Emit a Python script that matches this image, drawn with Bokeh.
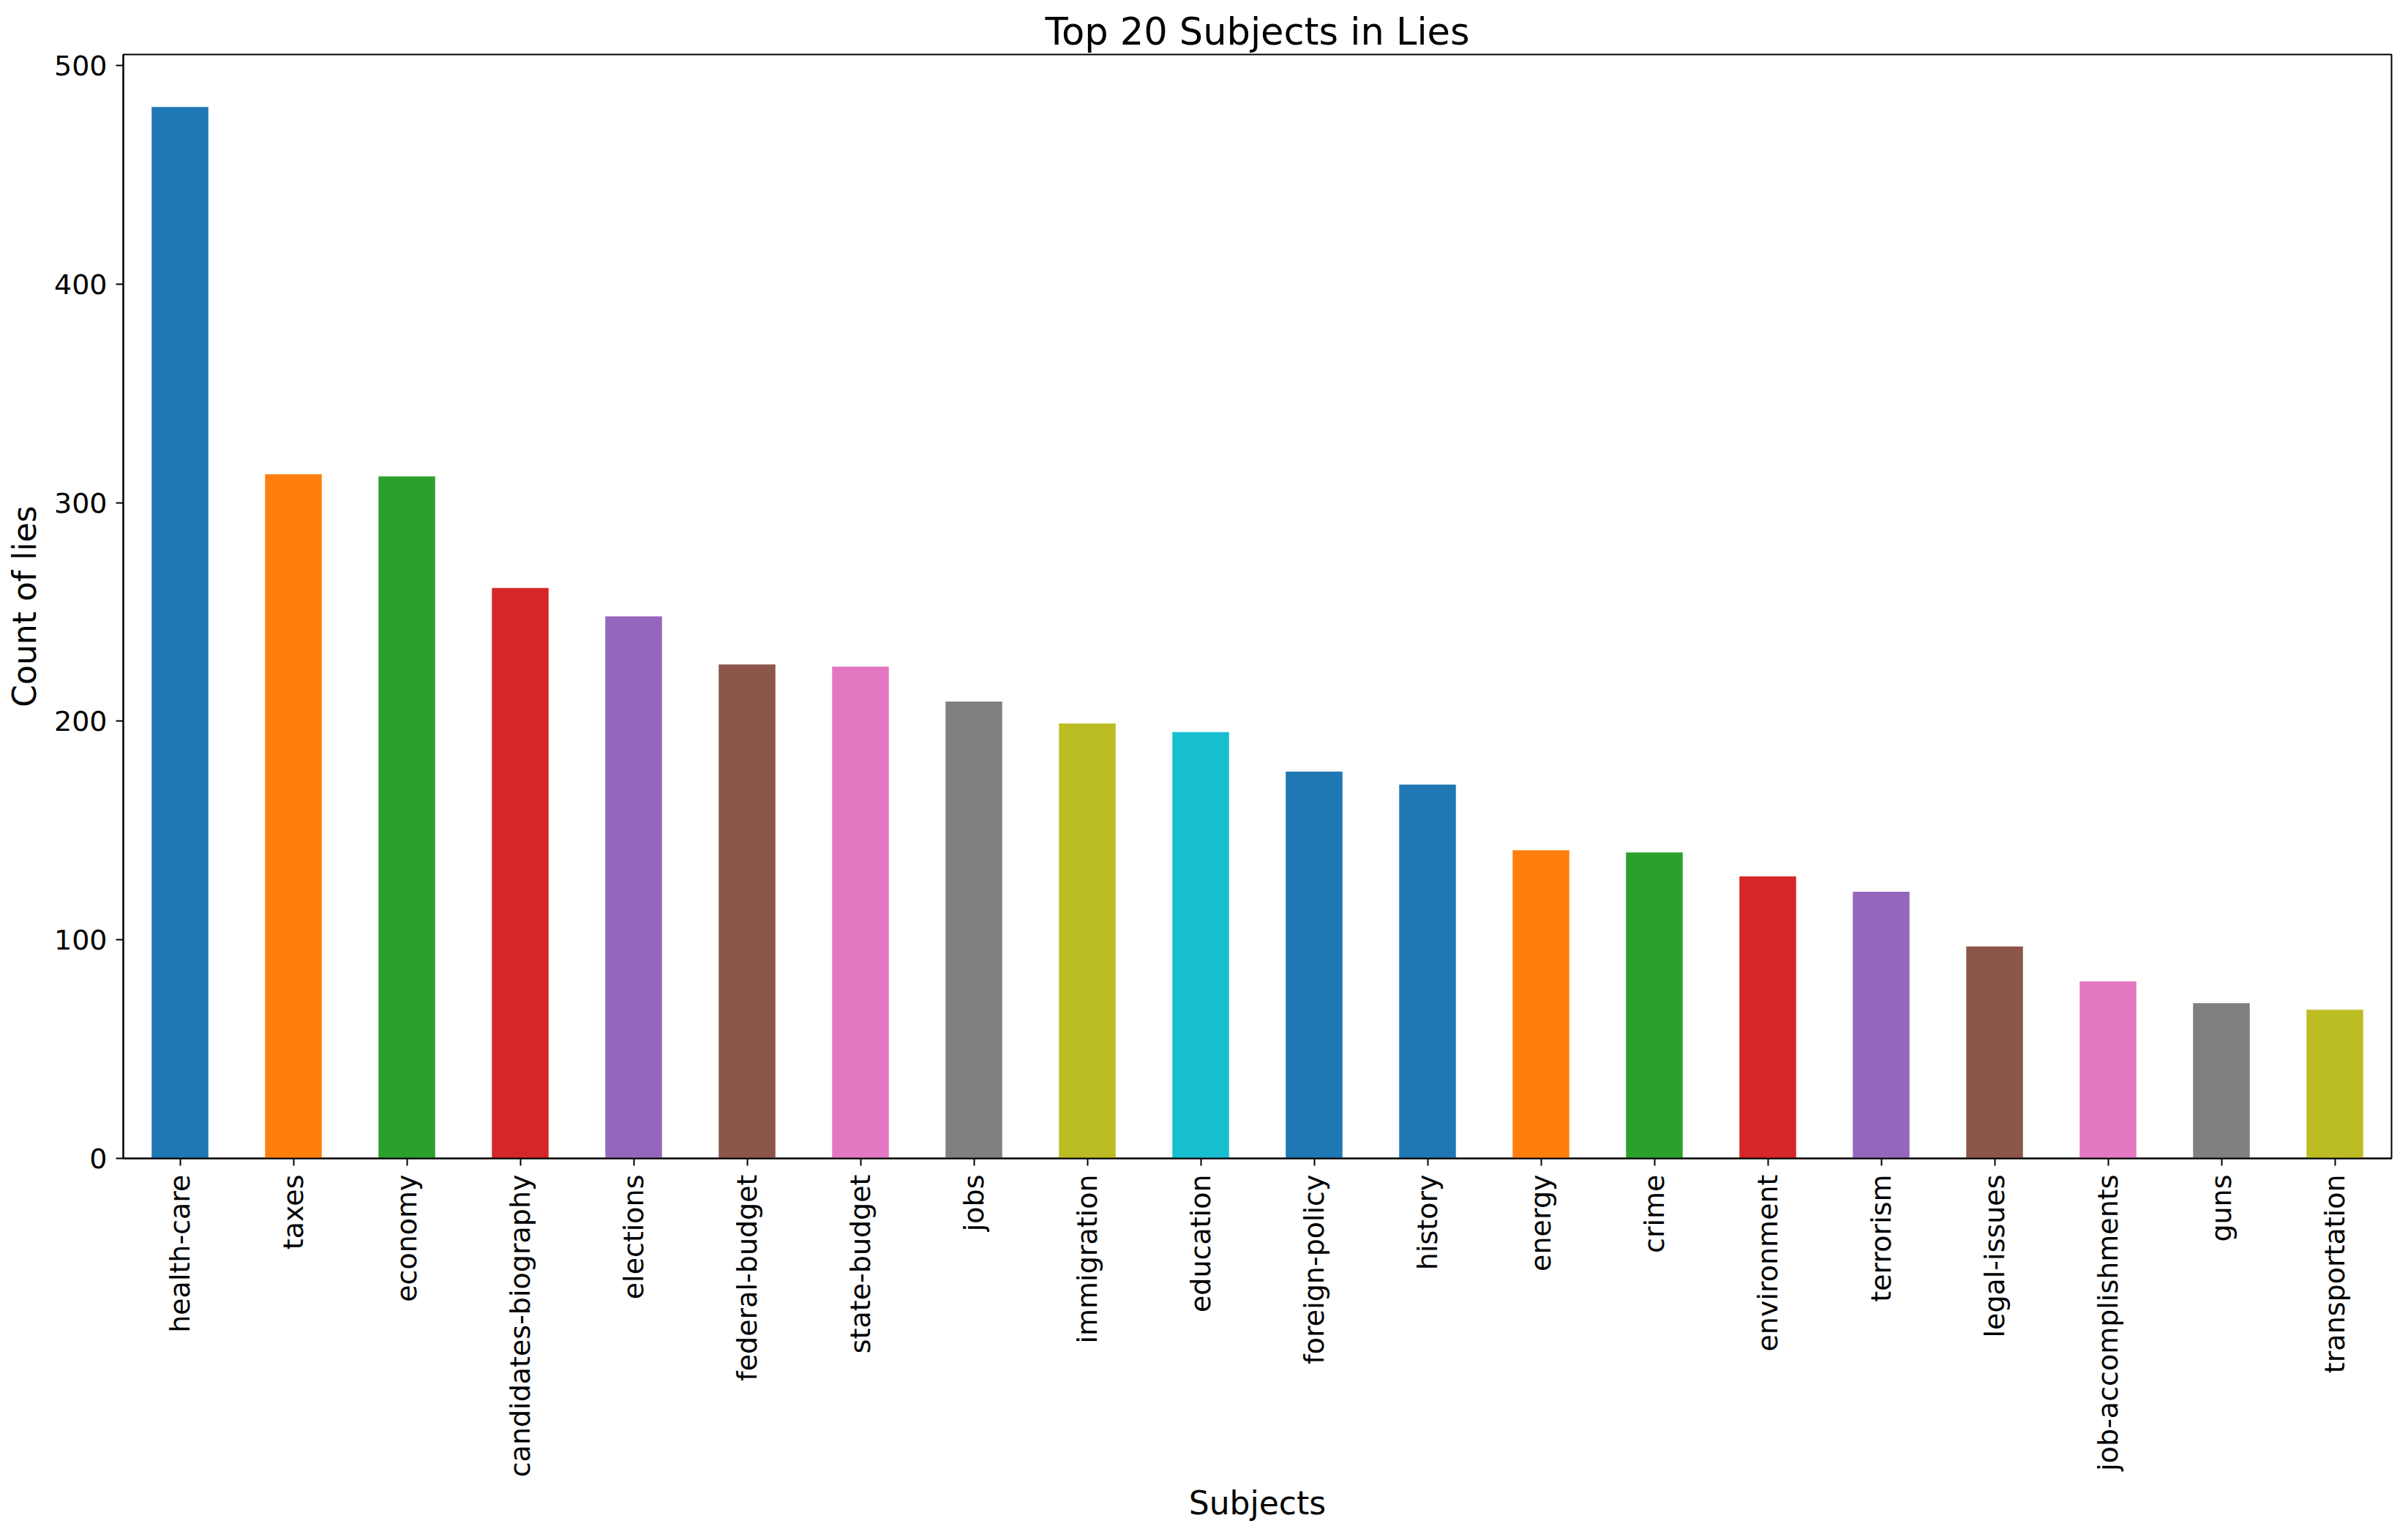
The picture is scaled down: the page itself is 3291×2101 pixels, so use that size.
from bokeh.plotting import figure
from bokeh.models import Range1d, FixedTicker, ColumnDataSource
from bokeh.embed import file_html
from bokeh.resources import INLINE
import math

subjects = ["health-care", "taxes", "economy", "candidates-biography", "elections",
            "federal-budget", "state-budget", "jobs", "immigration", "education",
            "foreign-policy", "history", "energy", "crime", "environment",
            "terrorism", "legal-issues", "job-accomplishments", "guns", "transportation"]
counts = [481, 313, 312, 261, 248, 226, 225, 209, 199, 195,
          177, 171, 141, 140, 129, 122, 97, 81, 71, 68]
y_ticks = [0, 100, 200, 300, 400, 500]

# bar colours as they appear in the reference (tab10, with foreign-policy and history both blue)
colors = ["#1f77b4", "#ff7f0e", "#2ca02c", "#d62728", "#9467bd",
          "#8c564b", "#e377c2", "#7f7f7f", "#bcbd22", "#17becf",
          "#1f77b4", "#1f77b4", "#ff7f0e", "#2ca02c", "#d62728",
          "#9467bd", "#8c564b", "#e377c2", "#7f7f7f", "#bcbd22"]

source = ColumnDataSource(dict(subject=subjects, count=counts, color=colors))

FONT = "DejaVu Sans"

p = figure(x_range=subjects, y_range=Range1d(0, max(counts) * 1.05),
           width=3283, height=2093, output_backend="svg", toolbar_location=None,
           min_border_left=168, min_border_right=15, min_border_top=74,
           min_border_bottom=510, title="Top 20 Subjects in Lies")

p.vbar(x="subject", top="count", width=0.5, color="color", line_color=None, source=source)

p.title.align = "center"
p.title.text_font = FONT
p.title.text_font_size = "51px"
p.title.text_font_style = "normal"
p.title.text_color = "black"
p.title.standoff = 4

p.xgrid.visible = False
p.ygrid.visible = False
p.outline_line_color = "black"
p.outline_line_width = 2
p.background_fill_color = "white"
p.border_fill_color = "white"

p.yaxis.ticker = FixedTicker(ticks=y_ticks)
for ax in (p.xaxis[0], p.yaxis[0]):
    ax.axis_line_color = "black"
    ax.axis_line_width = 2
    ax.major_tick_line_color = "black"
    ax.major_tick_line_width = 2
    ax.major_tick_out = 10
    ax.major_tick_in = 0
    ax.minor_tick_line_color = None
    ax.major_label_text_font = FONT
    ax.major_label_text_font_size = "38px"
    ax.major_label_text_color = "black"
    ax.major_label_standoff = 12
    ax.axis_label_text_font = FONT
    ax.axis_label_text_font_size = "44px"
    ax.axis_label_text_font_style = "normal"
    ax.axis_label_text_color = "black"

p.xaxis.axis_label = "Subjects"
p.yaxis.axis_label = "Count of lies"
p.xaxis.major_label_orientation = math.pi / 2
p.xaxis.axis_label_standoff = 7
p.yaxis.axis_label_standoff = 12

open("out.html", "w").write(file_html(p, INLINE))
